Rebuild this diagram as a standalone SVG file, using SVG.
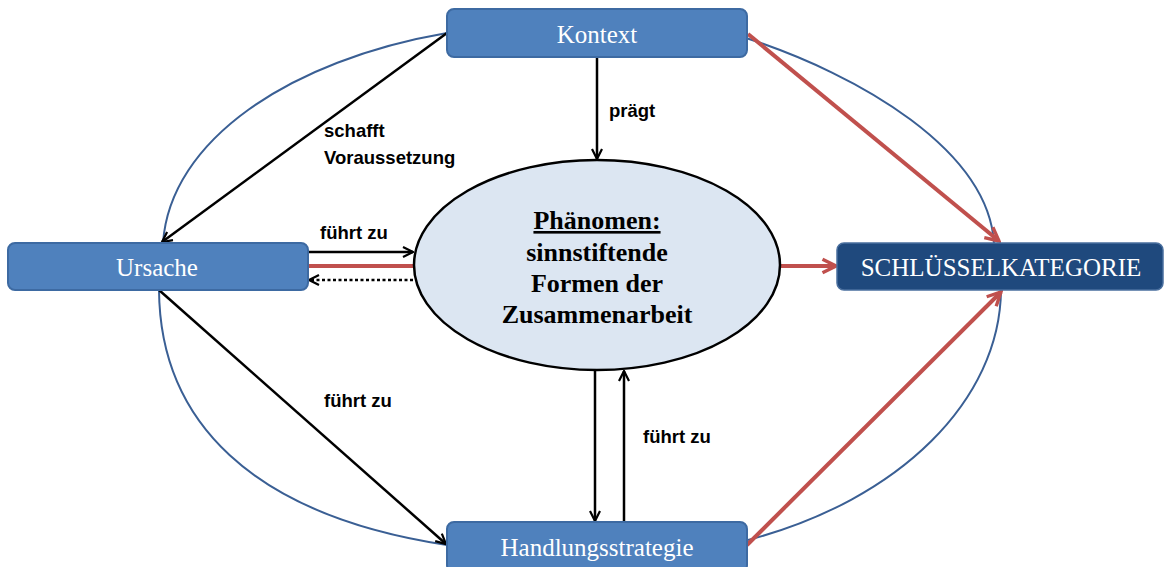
<svg xmlns="http://www.w3.org/2000/svg" width="1168" height="567" viewBox="0 0 1168 567">
<defs>
<style>
.box{fill:#4f81bd;stroke:#3d6aa2;stroke-width:2}
.key{fill:#1f497d;stroke:#4a6f9e;stroke-width:1.5}
.nt{font-family:"Liberation Serif","Times New Roman",serif;font-size:25px;fill:#fff;text-anchor:middle}
.et{font-family:"Liberation Serif","Times New Roman",serif;font-size:26px;font-weight:bold;fill:#000;text-anchor:middle}
.lbl{font-family:"Liberation Sans",Arial,sans-serif;font-size:18.5px;font-weight:bold;fill:#000}
.blue{fill:none;stroke:#3a5f94;stroke-width:2}
.blk{fill:none;stroke:#000;stroke-width:2.5}
.red{fill:none;stroke:#c0504d;stroke-width:4}
</style>
<marker id="ab" viewBox="0 0 12 12" refX="11" refY="6" markerWidth="12" markerHeight="12" markerUnits="userSpaceOnUse" orient="auto">
<path d="M1,1 L11,6 L1,11" fill="none" stroke="#000" stroke-width="2.2"/>
</marker>
<marker id="ar" viewBox="0 0 16 16" refX="14" refY="8" markerWidth="18" markerHeight="18" markerUnits="userSpaceOnUse" orient="auto">
<path d="M2,2 L14,8 L2,14" fill="none" stroke="#c0504d" stroke-width="3"/>
</marker>
</defs>
<rect width="1168" height="567" fill="#fff"/>
<g id="connectors">
<path class="blue" d="M447,33 C290,60 170,140 163,243"/>
<path class="blue" d="M159,290 C160,420 250,515 447,545"/>
<path class="blue" d="M746,38 C860,75 988,150 994,243"/>
<path class="blue" d="M1001,290 C1000,400 900,500 748,540"/>
<path class="blk" d="M447,33 L162,242" marker-end="url(#ab)"/>
<path class="blk" d="M597,57 L597,159" marker-end="url(#ab)"/>
<path class="blk" d="M308,252 L413,252" marker-end="url(#ab)"/>
<path class="red" d="M308,266 L415,266"/>
<path class="blk" d="M413,280 L309,280" stroke-dasharray="3,2.5" marker-end="url(#ab)"/>
<path class="blk" d="M159,290 L446,544" marker-end="url(#ab)"/>
<path class="blk" d="M595,370 L595,521" marker-end="url(#ab)"/>
<path class="blk" d="M624,522 L624,371" marker-end="url(#ab)"/>
<path class="red" d="M748,34 L999,241" marker-end="url(#ar)"/>
<path class="red" d="M781,266 L836,266" marker-end="url(#ar)"/>
<path class="red" d="M747,545 L1001,292" marker-end="url(#ar)"/>
<text class="lbl" x="324" y="137">schafft</text>
<text class="lbl" x="324" y="164">Voraussetzung</text>
<text class="lbl" x="609" y="117">prägt</text>
<text class="lbl" x="320" y="239">führt zu</text>
<text class="lbl" x="324" y="407">führt zu</text>
<text class="lbl" x="643" y="443">führt zu</text>
</g>
<g id="kontext">
<rect class="box" x="447" y="9" width="300" height="48" rx="7"/>
<text class="nt" x="597" y="43">Kontext</text>
</g>
<g id="ursache">
<rect class="box" x="8" y="243" width="300" height="47" rx="7"/>
<text class="nt" x="157" y="276">Ursache</text>
</g>
<g id="handlung">
<rect class="box" x="447" y="522" width="300" height="50" rx="7"/>
<text class="nt" x="597" y="556">Handlungsstrategie</text>
</g>
<g id="schluessel">
<rect class="key" x="837" y="243" width="326" height="47" rx="7"/>
<text class="nt" x="1001" y="276" font-size="26">SCHLÜSSELKATEGORIE</text>
</g>
<g id="phaenomen">
<ellipse cx="597" cy="265" rx="183" ry="105" fill="#dce6f2" stroke="#000" stroke-width="2.5"/>
<text class="et" x="597" y="229" text-decoration="underline">Phänomen:</text>
<text class="et" x="597" y="261">sinnstiftende</text>
<text class="et" x="597" y="292">Formen der</text>
<text class="et" x="597" y="323">Zusammenarbeit</text>
</g>
</svg>
